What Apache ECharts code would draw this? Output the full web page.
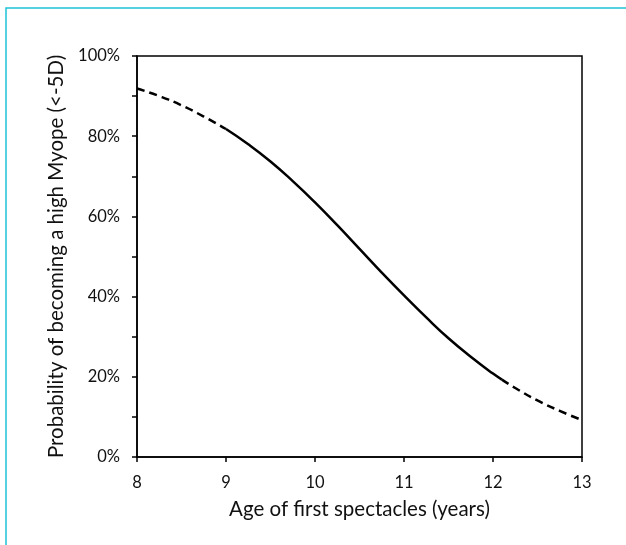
<!DOCTYPE html>
<html>
<head>
<meta charset="utf-8">
<script src="https://cdn.jsdelivr.net/npm/echarts@6/dist/echarts.min.js"></script>
<style>html,body{margin:0;padding:0;background:#fff;}#c{width:626px;height:545px;}</style>
</head>
<body>
<div id="c"></div>
<script>
// Age of first spectacles (years) and probability of becoming a high myope
const agesLow = [8, 8.25, 8.5, 8.75, 9];
const probLow = [0.919, 0.900, 0.877, 0.849, 0.818];
const agesMid = [9, 9.25, 9.5, 9.75, 10, 10.25, 10.5, 10.75, 11, 11.25, 11.5, 11.75, 12, 12.1];
const probMid = [0.818, 0.780, 0.737, 0.688, 0.635, 0.578, 0.519, 0.460, 0.403, 0.348, 0.296, 0.250, 0.208, 0.193];
const agesHigh = [12.1, 12.25, 12.5, 12.75, 13];
const probHigh = [0.193, 0.172, 0.141, 0.115, 0.092];
const xTicks = [8, 9, 10, 11, 12, 13];
const yTicks = [0, 0.2, 0.4, 0.6, 0.8, 1.0];

const font = 'Lato, "Open Sans", sans-serif';
const pairs = (xs, ys) => xs.map((x, i) => [x, ys[i]]);

const chart = echarts.init(document.getElementById('c'), null, {renderer: 'canvas'});
chart.setOption({
  animation: false,
  backgroundColor: '#fff',
  graphic: [{
    type: 'rect',
    shape: {x: 6, y: 8, width: 700, height: 600},
    style: {fill: 'none', stroke: '#1cc3d8', lineWidth: 1.5},
    silent: true
  }],
  grid: {left: 137, right: 44, top: 56, bottom: 88, show: true, borderColor: '#000', borderWidth: 1.5, backgroundColor: 'transparent'},
  xAxis: {
    type: 'value', min: xTicks[0], max: xTicks[xTicks.length - 1], interval: 1,
    name: 'Age of first spectacles (years)', nameLocation: 'middle', nameGap: 42,
    nameTextStyle: {fontFamily: font, fontSize: 20.5, color: '#111'},
    axisLine: {show: true, lineStyle: {color: '#000', width: 1.5}},
    axisTick: {show: true, inside: false, length: 5, lineStyle: {color: '#000', width: 1.5}},
    axisLabel: {fontFamily: font, fontSize: 16.5, color: '#111', margin: 17},
    splitLine: {show: false}
  },
  yAxis: {
    type: 'value', min: yTicks[0], max: yTicks[yTicks.length - 1], interval: 0.2,
    name: 'Probability of becoming a high Myope (<-5D)', nameLocation: 'middle', nameGap: 63,
    nameTextStyle: {fontFamily: font, fontSize: 20.5, color: '#111'},
    axisLine: {show: true, lineStyle: {color: '#000', width: 1.5}},
    axisTick: {show: true, inside: false, length: 5, lineStyle: {color: '#000', width: 1.5}},
    minorTick: {show: true, splitNumber: 2, length: 5, lineStyle: {color: '#000', width: 1.5}},
    axisLabel: {fontFamily: font, fontSize: 16.5, color: '#111', margin: 17,
      formatter: v => Math.round(v * 100) + '%'},
    splitLine: {show: false}
  },
  series: [
    {type: 'line', data: pairs(agesLow, probLow), smooth: true, showSymbol: false,
      lineStyle: {color: '#000', width: 2.5, type: [8, 5]}},
    {type: 'line', data: pairs(agesMid, probMid), smooth: true, showSymbol: false,
      lineStyle: {color: '#000', width: 2.5}},
    {type: 'line', data: pairs(agesHigh, probHigh), smooth: true, showSymbol: false,
      lineStyle: {color: '#000', width: 2.5, type: [8, 5]}}
  ]
});
</script>
</body>
</html>
